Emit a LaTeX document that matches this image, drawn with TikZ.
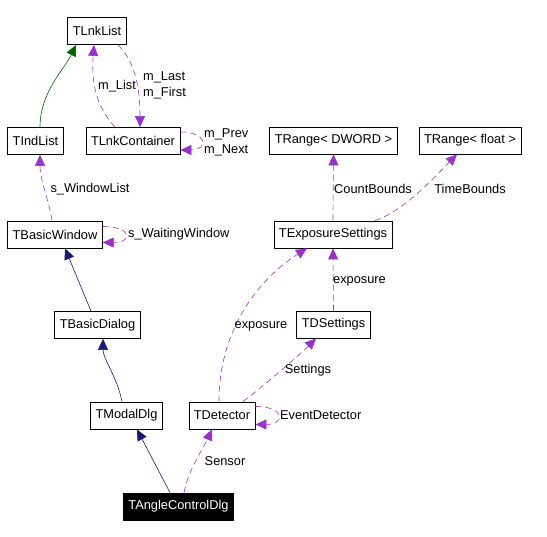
\documentclass[tikz,border=0pt]{standalone}
\usepackage{fontspec}
\setmainfont{Liberation Sans}
\usetikzlibrary{arrows.meta, positioning}
\definecolor{usepurple}{rgb}{0.6, 0.196, 0.8}
\definecolor{inhnavy}{rgb}{0.098, 0.098, 0.439}
\definecolor{inhgreen}{rgb}{0, 0.392, 0}

\tikzset{
    cls/.style={draw, rectangle, line width=0.8pt, inner xsep=5pt, minimum height=27pt,
        font=\fontsize{12.8}{14}\selectfont},
    lbl/.style={inner sep=1pt, align=left, font=\fontsize{12.8}{16}\selectfont},
    uses/.style={usepurple, dashed, dash pattern=on 6pt off 4pt, line width=0.6pt,
        -{Triangle[width=10pt,length=11pt]}},
    inh/.style={inhnavy, line width=0.6pt, -{Triangle[width=10pt,length=11pt]}},
}

\begin{document}
\begin{tikzpicture}[x=1pt, y=-1pt]
                    \useasboundingbox (0, 0) rectangle (547, 537);

                    \node[cls] (TLnkList) at (97, 31) {TLnkList};
                    \node[cls] (TIndList) at (35.5, 141) {TIndList};
                    \node[cls] (TLnkContainer) at (133, 141) {TLnkContainer};
                    \node[cls] (TRangeDWORD) at (333.5, 140.5) {TRange< DWORD >};
                    \node[cls] (TRangeFloat) at (470, 140.5) {TRange< float >};
                    \node[cls] (TBasicWindow) at (55, 234.5) {TBasicWindow};
                    \node[cls] (TExposureSettings) at (333, 234.5) {TExposureSettings};
                    \node[cls] (TBasicDialog) at (97.5, 325) {TBasicDialog};
                    \node[cls] (TDSettings) at (333.5, 324.5) {TDSettings};
                    \node[cls] (TModalDlg) at (126.5, 415.5) {TModalDlg};
                    \node[cls] (TDetector) at (222, 415.5) {TDetector};
                    \node[cls, fill=black, text=white] (TAngleControlDlg) at (178.5, 506.5) {TAngleControlDlg};

                    % inheritance
                    \draw[inh, inhgreen] ([xshift=4.5pt]TIndList.north) .. controls +(0, -35) and +(-12, 25) .. ([xshift=-21pt]TLnkList.south);
                    \draw[inh] ([xshift=-6.5pt]TBasicDialog.north) -- ([xshift=10pt]TBasicWindow.south);
                    \draw[inh] ([xshift=-4.5pt]TModalDlg.north) .. controls +(-5, -25) and +(0, 20) .. ([xshift=5.5pt]TBasicDialog.south);
                    \draw[inh] ([xshift=-8.5pt]TAngleControlDlg.north) -- ([xshift=10.5pt]TModalDlg.south);

                    % usage
                    \draw[uses] ([xshift=-18pt]TLnkContainer.north) .. controls +(-18, -20) and +(-3, 40) .. ([xshift=-3pt]TLnkList.south);
                    \draw[uses] ([xshift=21pt]TLnkList.south) .. controls +(15, 15) and +(0, -45) .. ([xshift=7pt]TLnkContainer.north);
                    \draw[uses] ([yshift=9pt]TLnkContainer.east) .. controls +(28, 0) and +(28, 0) .. ([yshift=-9pt]TLnkContainer.east);
                    \draw[uses] ([xshift=-3pt]TBasicWindow.north) .. controls +(-3, -20) and +(0, 25) .. ([xshift=4.5pt]TIndList.south);
                    \draw[uses] ([yshift=8pt]TBasicWindow.east) .. controls +(30, 0) and +(30, 0) .. ([yshift=-8pt]TBasicWindow.east);
                    \draw[uses] ([xshift=5.5pt]TAngleControlDlg.north) .. controls +(5, -25) and +(-8, 18) .. ([xshift=-10pt]TDetector.south);
                    \draw[uses] ([yshift=9pt]TDetector.east) .. controls +(30, 0) and +(30, 0) .. ([yshift=-9pt]TDetector.east);
                    \draw[uses] ([xshift=-3pt]TDetector.north) .. controls +(0, -80) and +(-40, 25) .. ([xshift=-26pt]TExposureSettings.south);
                    \draw[uses] ([xshift=21pt]TDetector.north) .. controls +(20, -15) and +(-15, 15) .. ([xshift=-17.5pt]TDSettings.south);
                    \draw[uses] (TDSettings.north) -- (TExposureSettings.south);
                    \draw[uses] (TExposureSettings.north) -- (TRangeDWORD.south);
                    \draw[uses] ([xshift=42pt]TExposureSettings.north) .. controls +(30, -10) and +(-20, 20) .. ([xshift=-13pt]TRangeFloat.south);

                    \node[lbl] (lblMList) at (117, 86) {m\_List};
                    \node[lbl, anchor=west] (lblMLast) at (142, 85) {m\_Last\\m\_First};
                    \node[lbl, anchor=west] (lblMPrev) at (203, 142) {m\_Prev\\m\_Next};
                    \node[lbl] (lblWinList) at (90, 189) {s\_WindowList};
                    \node[lbl, anchor=west] (lblWaiting) at (127, 234) {s\_WaitingWindow};
                    \node[lbl] (lblCount) at (373, 189) {CountBounds};
                    \node[lbl] (lblTime) at (470, 189) {TimeBounds};
                    \node[lbl, anchor=west] (lblExpDS) at (332, 281) {exposure};
                    \node[lbl] (lblExpDet) at (261, 326) {exposure};
                    \node[lbl] (lblSettings) at (308, 370) {Settings};
                    \node[lbl, anchor=west] (lblEvent) at (279, 415) {EventDetector};
                    \node[lbl] (lblSensor) at (225, 461) {Sensor};
            \end{tikzpicture}
\end{document}
